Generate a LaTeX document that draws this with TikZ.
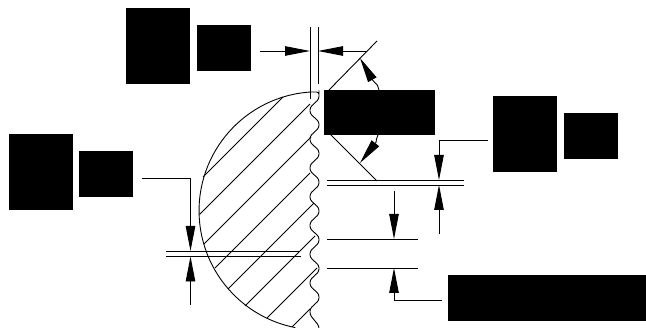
\documentclass[tikz,border=0pt]{standalone}
\usepackage{tikz}
\usetikzlibrary{positioning, arrows.meta}
\tikzstyle{textblock} = [rectangle, inner sep=0pt, outer sep=0pt, draw=none, fill=black]
\tikzstyle{tall}      = [textblock, minimum width=64pt, minimum height=76pt]
\tikzstyle{short}     = [textblock, minimum width=54pt, minimum height=46pt]
\tikzstyle{dimline}   = [line width=0.9pt]
\tikzstyle{dimarrow}  = [line width=0.9pt, -{Triangle[length=25pt, width=9.5pt]}]

\begin{document}
\begin{tikzpicture}[x=1pt, y=-1pt]
            \useasboundingbox (0,0) rectangle (646,328);

            \node[tall] (gapTall) at (158,46) {};
            \node[short] (gapShort) [right=7pt of gapTall, yshift=-2pt] {};
            \node[tall] (depthTall) at (40.5,172) {};
            \node[short] (depthShort) [right=6pt of depthTall, yshift=-2pt] {};
            \node[textblock, minimum width=111pt, minimum height=45pt] (angle) at (379.5,112.5) {};
            \node[tall] (crestTall) at (525,134.5) {};
            \node[short] (crestShort) [right=7pt of crestTall, yshift=-2pt] {};
            \node[textblock, minimum width=198pt, minimum height=46pt] (pitch) at (547,298) {};

            % section outline
            \draw[dimline] (311,92) arc[start angle=-93.4, end angle=-259, radius=119];
            \draw[dimline, rounded corners=2.5pt] (310,92) -- (319,92)
                \foreach \k [evaluate=\k as \yy using 96+28.75*\k] in {0,...,7} {
                    -- (319,\yy-3) -- (319,\yy+3) -- (310,\yy+11.5) -- (310,\yy+17.5)
                } -- (319,326) -- (319,328);

            % hatching
            \foreach \xa/\ya/\xb/\yb in {283/97/203/177, 310/104/199.5/214.5, 311/137/204/244, 310/173/215/268,
                                         314/203/228/289, 315/236/245/306, 317/268/267/318, 310/309/292/327} {
                \draw[dimline] (\xa,\ya) -- (\xb,\yb);
            }

            % gap between the flanks
            \coordinate (extA1) at (310,27);
            \coordinate (extA2) at (310,99);
            \coordinate (extB1) at (318,27);
            \coordinate (extB2) at (318,84);
            \coordinate (gapIn) at (260,51);
            \coordinate (gapTipA) at (310,51);
            \coordinate (gapOut) at (367,51);
            \coordinate (gapTipB) at (318,51);
            \draw[dimline] (extA1) -- (extA2);
            \draw[dimline] (extB1) -- (extB2);
            \draw[dimarrow] (gapIn) -- (gapTipA);
            \draw[dimarrow] (gapOut) -- (gapTipB);

            % flank angle
            \coordinate (flankA) at (377,41);
            \coordinate (flankB) at (329,90);
            \coordinate (flankC) at (331,135);
            \coordinate (flankD) at (377,181);
            \coordinate (angleTipA) at (360,58);
            \coordinate (angleBaseA) at (372.5,80);
            \coordinate (angleTipB) at (360,163);
            \coordinate (angleBaseB) at (376,142.5);
            \draw[dimline] (flankA) -- (flankB);
            \draw[dimline] (flankC) -- (flankD);
            \draw[dimarrow] (379,90) arc[start angle=-16.3, end angle=-20, radius=75] -- (angleBaseA) -- (angleTipA);
            \draw[dimarrow] (378,135) arc[start angle=18.7, end angle=22, radius=75] -- (angleBaseB) -- (angleTipB);

            % crest
            \coordinate (crestA1) at (327,180);
            \coordinate (crestA2) at (464,180);
            \coordinate (crestB1) at (327,185);
            \coordinate (crestB2) at (464,185);
            \coordinate (crestIn) at (488,140);
            \coordinate (crestBend) at (439,140);
            \coordinate (crestTipA) at (439,180);
            \coordinate (crestOut) at (439,234);
            \coordinate (crestTipB) at (439,185);
            \draw[dimline] (crestA1) -- (crestA2);
            \draw[dimline] (crestB1) -- (crestB2);
            \draw[dimarrow] (crestIn) -- (crestBend) -- (crestTipA);
            \draw[dimarrow] (crestOut) -- (crestTipB);

            % pitch
            \coordinate (pitchA1) at (327,239);
            \coordinate (pitchA2) at (418,239);
            \coordinate (pitchB1) at (327,268);
            \coordinate (pitchB2) at (418,268);
            \coordinate (pitchOut) at (394,191);
            \coordinate (pitchTipA) at (394,239);
            \coordinate (pitchIn) at (442,300);
            \coordinate (pitchBend) at (394,300);
            \coordinate (pitchTipB) at (394,268);
            \draw[dimline] (pitchA1) -- (pitchA2);
            \draw[dimline] (pitchB1) -- (pitchB2);
            \draw[dimarrow] (pitchOut) -- (pitchTipA);
            \draw[dimarrow] (pitchIn) -- (pitchBend) -- (pitchTipB);

            % depth
            \coordinate (depthA1) at (166,251);
            \coordinate (depthA2) at (300,251);
            \coordinate (depthB1) at (166,256.5);
            \coordinate (depthB2) at (301,256.5);
            \coordinate (depthIn) at (142,178);
            \coordinate (depthBend) at (190.5,178);
            \coordinate (depthTipA) at (190.5,251);
            \coordinate (depthOut) at (190.5,305);
            \coordinate (depthTipB) at (190.5,256.5);
            \draw[dimline] (depthA1) -- (depthA2);
            \draw[dimline] (depthB1) -- (depthB2);
            \draw[dimarrow] (depthIn) -- (depthBend) -- (depthTipA);
            \draw[dimarrow] (depthOut) -- (depthTipB);
        \end{tikzpicture}
\end{document}
